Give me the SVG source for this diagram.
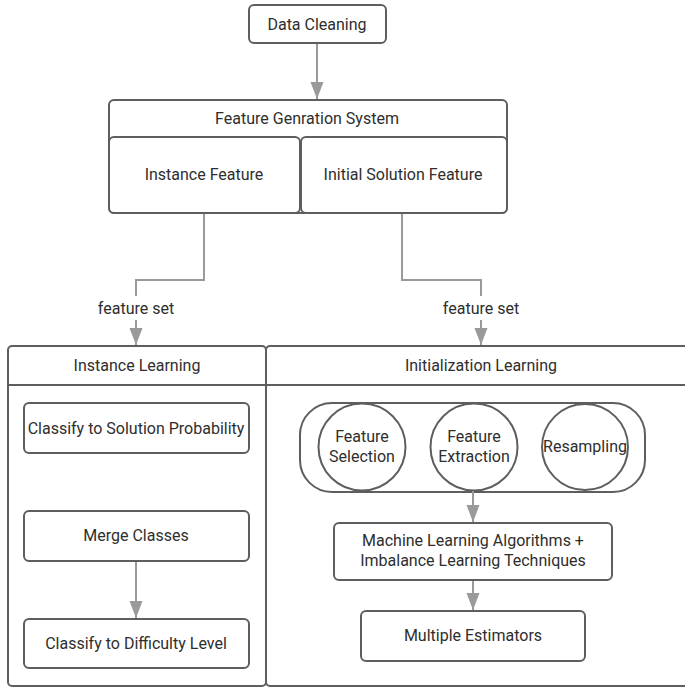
<svg xmlns="http://www.w3.org/2000/svg" width="685" height="687" viewBox="0 0 685 687">
<style>
.box{fill:#fff;stroke:#5e5e5e;stroke-width:2}
.ln{fill:none;stroke:#5e5e5e;stroke-width:2}
.cn{fill:none;stroke:#9a9a9a;stroke-width:2}
text{font-family:Roboto,"Liberation Sans",sans-serif;font-size:16px;fill:#2e2e2e;text-anchor:middle;dominant-baseline:central}
</style>
<defs>
<marker id="ah" markerUnits="userSpaceOnUse" markerWidth="17" markerHeight="14" refX="17" refY="6.5" orient="auto">
<path d="M0,0 L17,6.5 L0,13 Z" fill="#9a9a9a"/>
</marker>
</defs>
<rect width="685" height="687" fill="#fff"/>
<g id="data-cleaning">
<rect class="box" x="249" y="5" width="137" height="38" rx="5"/>
<text x="317" y="24">Data Cleaning</text>
</g>
<g id="feature-generation-system">
<rect class="box" x="109" y="100" width="398" height="113" rx="5"/>
<text x="307" y="118">Feature Genration System</text>
</g>
<g id="instance-feature">
<rect class="box" x="109" y="137" width="191" height="76" rx="5"/>
<text x="204" y="174">Instance Feature</text>
</g>
<g id="initial-solution-feature">
<rect class="box" x="301" y="137" width="206" height="76" rx="5"/>
<text x="403" y="174">Initial Solution Feature</text>
</g>
<g id="instance-learning">
<rect class="box" x="8" y="346" width="258" height="340" rx="4"/>
<line class="ln" x1="8" y1="385" x2="266" y2="385"/>
<text x="137" y="365">Instance Learning</text>
</g>
<g id="initialization-learning">
<rect class="box" x="266" y="346" width="440" height="340" rx="4"/>
<line class="ln" x1="266" y1="385" x2="685" y2="385"/>
<text x="481" y="365">Initialization Learning</text>
</g>
<g id="classify-solution-probability">
<rect class="box" x="24" y="403" width="225" height="50" rx="5"/>
<text x="136" y="428">Classify to Solution Probability</text>
</g>
<g id="merge-classes">
<rect class="box" x="24" y="511" width="225" height="50" rx="5"/>
<text x="136" y="535">Merge Classes</text>
</g>
<g id="classify-difficulty-level">
<rect class="box" x="24" y="619" width="225" height="49" rx="5"/>
<text x="136" y="643">Classify to Difficulty Level</text>
</g>
<g id="preprocessing-group">
<rect class="box" x="300" y="403" width="345" height="89" rx="32"/>
</g>
<g id="feature-selection">
<circle class="box" cx="362" cy="447" r="43.5"/>
<text x="362" y="436">Feature</text>
<text x="362" y="456">Selection</text>
</g>
<g id="feature-extraction">
<circle class="box" cx="474" cy="447" r="43.5"/>
<text x="474" y="436">Feature</text>
<text x="474" y="456">Extraction</text>
</g>
<g id="resampling">
<circle class="box" cx="585" cy="447" r="43"/>
<text x="585" y="446">Resampling</text>
</g>
<g id="ml-algorithms">
<rect class="box" x="334" y="523" width="278" height="57" rx="5"/>
<text x="473" y="540">Machine Learning Algorithms +</text>
<text x="473" y="560">Imbalance Learning Techniques</text>
</g>
<g id="multiple-estimators">
<rect class="box" x="361" y="611" width="224" height="50" rx="5"/>
<text x="473" y="635">Multiple Estimators</text>
</g>
<g id="connectors">
<path class="cn" d="M317,44 V99" marker-end="url(#ah)"/>
<path class="cn" d="M204,214 V280 H136 V296"/>
<path class="cn" d="M136,320 V345" marker-end="url(#ah)"/>
<path class="cn" d="M402,214 V280 H481 V296"/>
<path class="cn" d="M481,320 V345" marker-end="url(#ah)"/>
<path class="cn" d="M136,562 V618" marker-end="url(#ah)"/>
<path class="cn" d="M473,491 V522" marker-end="url(#ah)"/>
<path class="cn" d="M473,581 V610" marker-end="url(#ah)"/>
<text x="136" y="308">feature set</text>
<text x="481" y="308">feature set</text>
</g>
</svg>
